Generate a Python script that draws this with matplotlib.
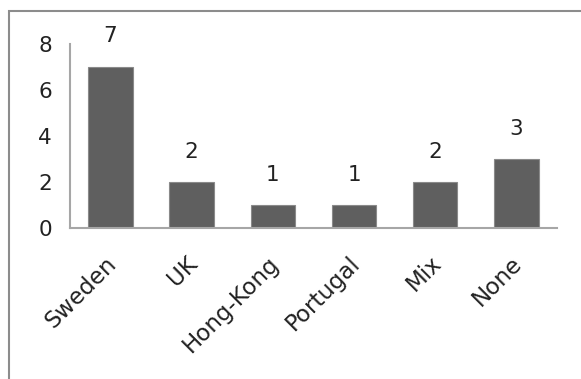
import matplotlib
matplotlib.use('Agg')
import matplotlib.pyplot as plt
from matplotlib.patches import Rectangle
from matplotlib.transforms import ScaledTranslation

# countries and counts
countries = ['Sweden', 'UK', 'Hong-Kong', 'Portugal', 'Mix', 'None']
counts = [7, 2, 1, 1, 2, 3]

bar_col = '#5f5f5f'
axis_col = '#a6a6a6'

plt.rcParams['font.family'] = ['DejaVu Sans']

fig = plt.figure(figsize=(5.81, 3.79), dpi=100)
ax = fig.add_axes([0.1205, 0.398, 0.838, 0.486])

x = range(len(countries))
ax.bar(x, counts, width=0.55, color=bar_col, edgecolor='#8a8a8a', linewidth=0.8)

for xi, c in zip(x, counts):
    ax.annotate(str(c), (xi, c), xytext=(0, 22), textcoords='offset points',
                ha='center', va='center', fontsize=15.5, color='#222222')

ax.set_xlim(-0.5, len(countries) - 0.5)
ax.set_ylim(0, 8)
ax.set_yticks([0, 2, 4, 6, 8])
ax.set_xticks(list(x))
ax.set_xticklabels(countries, rotation=45, ha='right', rotation_mode='anchor')
ax.tick_params(axis='both', length=0, labelcolor='#222222')
ax.tick_params(axis='y', pad=13, labelsize=15.5)
ax.tick_params(axis='x', pad=17, labelsize=16.5)

# nudge the slanted names a little to the left
shift = ScaledTranslation(-4 / 72, 0, fig.dpi_scale_trans)
for lbl in ax.get_xticklabels():
    lbl.set_transform(lbl.get_transform() + shift)

for s in ['top', 'right']:
    ax.spines[s].set_visible(False)
for s in ['left', 'bottom']:
    ax.spines[s].set_color(axis_col)
    ax.spines[s].set_linewidth(1.5)

# outer frame: only its top and left edges fall inside the image
fig.patches.append(Rectangle((9 / 581, -0.1), 1.0, 1.1 - 11 / 379,
                             transform=fig.transFigure, fill=False,
                             edgecolor='#8c8c8c', linewidth=1.5))

fig.savefig('out.png', dpi=100)
